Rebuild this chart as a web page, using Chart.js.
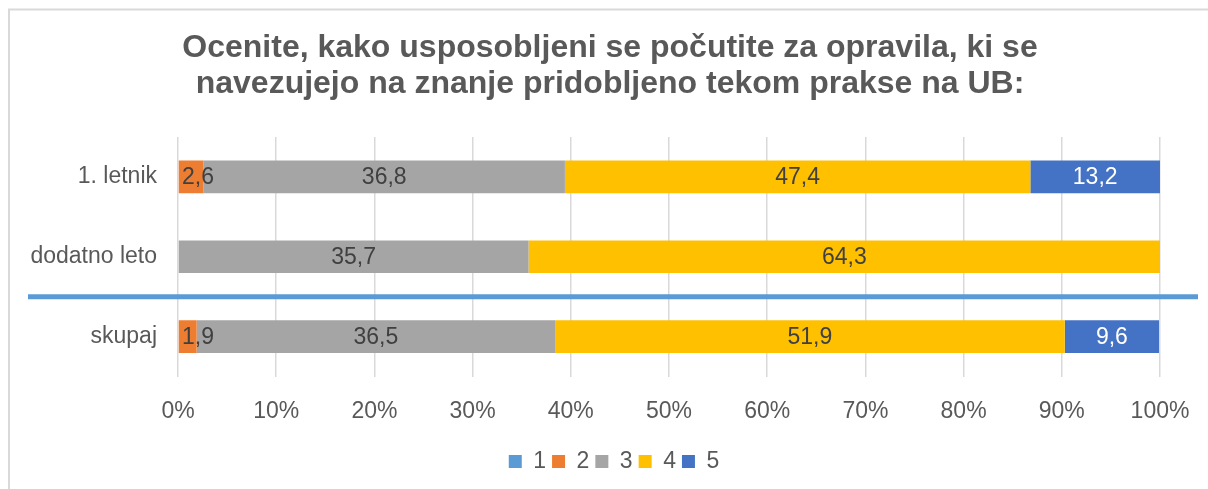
<!DOCTYPE html>
<html>
<head>
<meta charset="utf-8">
<script src="https://cdn.jsdelivr.net/npm/chart.js@4/dist/chart.umd.min.js"></script>
<style>
  html, body { margin: 0; padding: 0; background: #fff; }
  #wrap { position: relative; width: 1208px; height: 489px; }
</style>
</head>
<body>
<div id="wrap"><canvas id="c" width="1208" height="489"></canvas></div>
<script>
const categories = ["1. letnik", "dodatno leto", "skupaj"];
const seriesNames = ["1", "2", "3", "4", "5"];
const s1 = [0, 0, 0];
const s2 = [2.6, 0, 1.9];
const s3 = [36.8, 35.7, 36.5];
const s4 = [47.4, 64.3, 51.9];
const s5 = [13.2, 0, 9.6];
const colors = ["#5B9BD5", "#ED7D31", "#A5A5A5", "#FFC000", "#4472C4"];
const labelColors = ["#404040", "#404040", "#404040", "#404040", "#FFFFFF"];
const xTicks = [0, 10, 20, 30, 40, 50, 60, 70, 80, 90, 100];
const titleLines = ["Ocenite, kako usposobljeni se počutite za opravila, ki se", "navezujejo na znanje pridobljeno tekom prakse na UB:"];

const FONT = "'Liberation Sans', Arial, sans-serif";

const frame = {
  id: 'frame',
  beforeDraw(chart) {
    const ctx = chart.ctx;
    ctx.save();
    ctx.fillStyle = '#fff';
    ctx.fillRect(0, 0, chart.width, chart.height);
    ctx.strokeStyle = '#D9D9D9';
    ctx.lineWidth = 2;
    ctx.beginPath();
    ctx.moveTo(9, chart.height + 5);
    ctx.lineTo(9, 9.5);
    ctx.lineTo(chart.width + 5, 9.5);
    ctx.stroke();
    ctx.restore();
  }
};

const boxShift = {
  id: 'boxShift',
  afterLayout(chart) {
    const t = chart.titleBlock;
    if (t) { t.left += 24; t.right += 24; }
    const l = chart.legend;
    if (l) { l.left += 28; l.right += 28; }
  }
};

const divider = {
  id: 'divider',
  afterDatasetsDraw(chart) {
    const y = chart.scales.y;
    const yy = (y.getPixelForValue(1) + y.getPixelForValue(2)) / 2;
    const ctx = chart.ctx;
    ctx.save();
    ctx.strokeStyle = '#5B9BD5';
    ctx.lineWidth = 5;
    ctx.beginPath();
    ctx.moveTo(chart.chartArea.left - 150, yy);
    ctx.lineTo(chart.chartArea.right + 38, yy);
    ctx.stroke();
    ctx.restore();
  }
};

const valueLabels = {
  id: 'valueLabels',
  afterDatasetsDraw(chart) {
    const ctx = chart.ctx;
    ctx.save();
    ctx.font = "23px " + FONT;
    ctx.textAlign = 'center';
    ctx.textBaseline = 'middle';
    chart.data.datasets.forEach((ds, di) => {
      const meta = chart.getDatasetMeta(di);
      meta.data.forEach((el, i) => {
        const v = ds.data[i];
        if (!v) return;
        const txt = String(v).replace('.', ',');
        let cx = (el.x + el.base) / 2;
        const w = ctx.measureText(txt).width;
        const minLeft = chart.chartArea.left + 4;
        if (cx - w / 2 < minLeft) cx = minLeft + w / 2;
        ctx.fillStyle = labelColors[di];
        ctx.fillText(txt, cx, el.y + 1);
      });
    });
    ctx.restore();
  }
};

const seriesData = [s1, s2, s3, s4, s5];

new Chart(document.getElementById('c'), {
  type: 'bar',
  data: {
    labels: categories,
    datasets: seriesNames.map((n, i) => ({
      label: n,
      data: seriesData[i],
      backgroundColor: colors[i],
      borderWidth: 0,
      categoryPercentage: 1,
      barPercentage: 0.41
    }))
  },
  options: {
    indexAxis: 'y',
    responsive: false,
    animation: false,
    devicePixelRatio: 1,
    layout: { padding: { left: 12, right: 48, top: 0, bottom: 6 } },
    scales: {
      x: {
        stacked: true,
        min: 0, max: 100,
        afterBuildTicks(scale) { scale.ticks = xTicks.map(v => ({ value: v })); },
        afterFit(scale) { scale.height = 67.5; scale.paddingRight = 40; scale.paddingLeft = 20; },
        grid: { color: '#D9D9D9', lineWidth: 1.5, drawTicks: false },
        border: { display: false },
        ticks: {
          padding: 21,
          color: '#595959',
          font: { family: FONT, size: 23 },
          callback: v => v + '%',
          maxRotation: 0
        }
      },
      y: {
        stacked: true,
        afterFit(scale) { scale.width = 166; },
        grid: { display: false, drawTicks: false },
        border: { display: false },
        ticks: {
          padding: 21,
          color: '#595959',
          font: { family: FONT, size: 23 }
        }
      }
    },
    plugins: {
      title: {
        display: true,
        text: titleLines,
        color: '#595959',
        font: { family: FONT, size: 32, weight: 'bold', lineHeight: 1.125 },
        padding: { top: 30, bottom: 35 }
      },
      legend: {
        position: 'bottom',
        labels: {
          boxWidth: 13,
          boxHeight: 13,
          padding: 6,
          color: '#595959',
          font: { family: FONT, size: 23 }
        }
      },
      tooltip: { enabled: false }
    }
  },
  plugins: [frame, boxShift, divider, valueLabels]
});
</script>
</body>
</html>
